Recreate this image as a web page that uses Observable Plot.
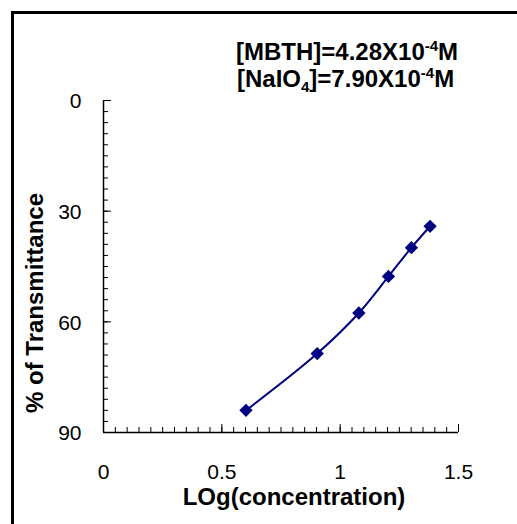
<!DOCTYPE html>
<html>
<head>
<meta charset="utf-8">
<script src="https://cdn.jsdelivr.net/npm/d3@7"></script>
<script src="https://cdn.jsdelivr.net/npm/@observablehq/plot@0.6"></script>
<style>
  html, body { margin: 0; padding: 0; background: #fff; }
  #wrap { position: relative; width: 517px; height: 524px; overflow: hidden; }
  #border { position: absolute; left: 11px; top: 11px; width: 600px; height: 600px;
            border-left: 3px solid #000; border-top: 3px solid #000; pointer-events: none; }
  svg { display: block; }
</style>
</head>
<body>
<div id="wrap"><div id="border"></div></div>
<script>
// Data
const logConc = [0.602, 0.903, 1.079, 1.204, 1.301, 1.380];
const transmittance = [84.0, 68.6, 57.6, 47.7, 39.9, 34.1];
const xTickLabels = [0, 0.5, 1, 1.5];
const yTickLabels = [0, 30, 60, 90];
const xTitle = "LOg(concentration)";
const yTitle = "% of Transmittance";

const data = logConc.map((x, i) => ({x, y: transmittance[i]}));

const W = 517, H = 524;
const mL = 103, mR = 59, mT = 100, mB = 92;
const pw = W - mL - mR, ph = H - mT - mB;
const font = "'Liberation Sans', Arial, sans-serif";

const xMinor = d3.range(0, 31).map(i => +(i * 0.05).toFixed(2));
const yMinor = d3.range(0, 31).map(i => i * 3);
const navy = "#000080";

const chart = Plot.plot({
  width: W, height: H,
  marginLeft: mL, marginRight: mR, marginTop: mT, marginBottom: mB,
  style: {fontFamily: font, color: "#000", background: "#fff", overflow: "visible"},
  x: {domain: [0, 1.5]},
  y: {domain: [0, 90], reverse: true},
  marks: [
    Plot.ruleX(xMinor, {x: d => d, insetTop: ph - 5, stroke: "#000", strokeWidth: 1}),
    Plot.ruleX(xTickLabels, {x: d => d, insetTop: ph - 8, stroke: "#000", strokeWidth: 1}),
    Plot.ruleY(yMinor, {y: d => d, insetRight: pw - 5, stroke: "#000", strokeWidth: 1}),
    Plot.ruleY(yTickLabels, {y: d => d, insetRight: pw - 8, stroke: "#000", strokeWidth: 1}),
    Plot.ruleX([0], {stroke: "#000", strokeWidth: 1.5}),
    Plot.ruleY([90], {stroke: "#000", strokeWidth: 1.5}),
    Plot.axisX({ticks: xTickLabels, tickSize: 0, tickPadding: 32, fontSize: 21,
                tickFormat: d => String(d), label: null}),
    Plot.axisY({ticks: yTickLabels, tickSize: 0, tickPadding: 22, fontSize: 21, dy: 1,
                tickFormat: d => String(d), label: null}),
    Plot.line(data, {x: "x", y: "y", curve: "catmull-rom", stroke: navy, strokeWidth: 2}),
    Plot.dot(data, {x: "x", y: "y", symbol: "diamond2", r: 6, fill: navy, stroke: "none"})
  ]
});

const svg = d3.select(chart);
svg.append("text")
  .attr("x", 294).attr("y", 505)
  .attr("text-anchor", "middle")
  .attr("font-family", font).attr("font-size", 24).attr("font-weight", "bold")
  .attr("fill", "#000")
  .text(xTitle);
svg.append("text")
  .attr("transform", "translate(43,303) rotate(-90)")
  .attr("text-anchor", "middle")
  .attr("font-family", font).attr("font-size", 24).attr("font-weight", "bold")
  .attr("fill", "#000")
  .text(yTitle);

const a1 = svg.append("text").attr("x", 236).attr("y", 60).attr("text-anchor", "start")
  .attr("font-family", font).attr("font-size", 24).attr("font-weight", "bold").attr("fill", "#000");
a1.append("tspan").text("[MBTH]=4.28X10");
a1.append("tspan").attr("font-size", 15).attr("dy", -9).text("-4");
a1.append("tspan").attr("dy", 9).text("M");

const a2 = svg.append("text").attr("x", 237).attr("y", 87).attr("text-anchor", "start")
  .attr("font-family", font).attr("font-size", 24).attr("font-weight", "bold").attr("fill", "#000");
a2.append("tspan").text("[NaIO");
a2.append("tspan").attr("font-size", 15).attr("dy", 5).text("4");
a2.append("tspan").attr("dy", -5).text("]=7.90X10");
a2.append("tspan").attr("font-size", 15).attr("dy", -9).text("-4");
a2.append("tspan").attr("dy", 9).text("M");

document.getElementById("wrap").insertBefore(chart, document.getElementById("border"));
</script>
</body>
</html>
